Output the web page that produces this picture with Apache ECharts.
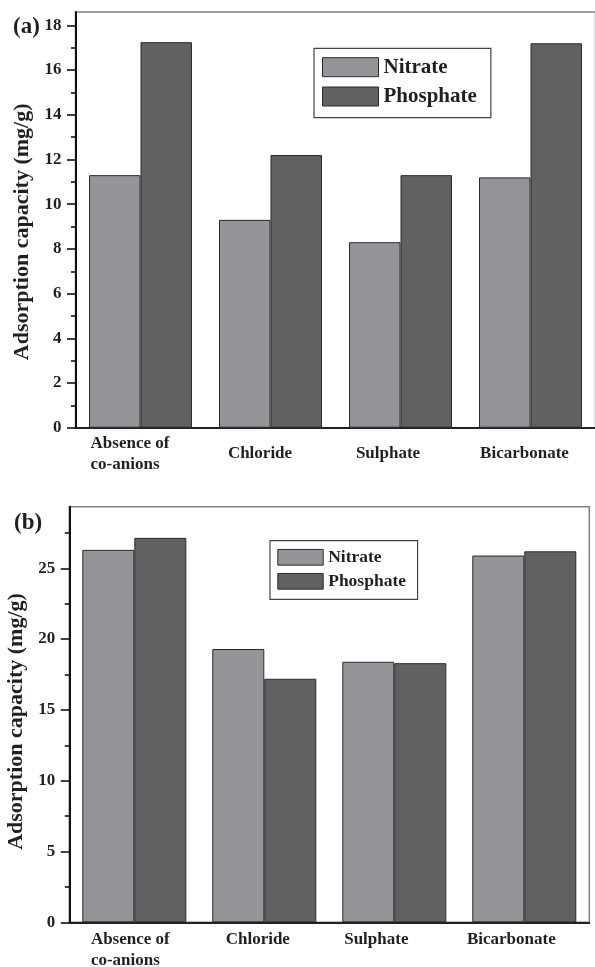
<!DOCTYPE html>
<html>
<head>
<meta charset="utf-8">
<script src="https://cdn.jsdelivr.net/npm/echarts@6/dist/echarts.min.js"></script>
<style>
  html, body { margin: 0; padding: 0; background: #fff; }
  #chart { width: 595px; height: 967px; }
</style>
</head>
<body>
<div id="chart"></div>
<script>
// Co-anion categories shared by both panels
const categories = ['Absence of\nco-anions', 'Chloride', 'Sulphate', 'Bicarbonate'];

// Panel (a): adsorption capacity (mg/g)
const nitrateA = [11.3, 9.3, 8.3, 11.2];
const phosphateA = [17.25, 12.2, 11.3, 17.2];

// Panel (b): adsorption capacity (mg/g)
const nitrateB = [26.3, 19.3, 18.4, 25.9];
const phosphateB = [27.15, 17.2, 18.3, 26.2];

// Y-axis tick values
const majorTicksA = [0, 2, 4, 6, 8, 10, 12, 14, 16, 18];
const minorTicksA = [1, 3, 5, 7, 9, 11, 13, 15, 17];
const majorTicksB = [0, 5, 10, 15, 20, 25];
const minorTicksB = [2.5, 7.5, 12.5, 17.5, 22.5, 27.5];

const FONT = "'Liberation Serif', 'Times New Roman', serif";
const TEXT = '#231f20';
const LIGHT = '#949598';
const DARK = '#616163';
const EDGE = '#2a2a2a';

// right padding per category label (nudges each label to the left)
function catLabel(shifts, lineHeight) {
  const rich = {};
  shifts.forEach((s, i) => {
    rich['s' + i] = {
      fontFamily: FONT, fontWeight: 'bold', fontSize: 17, color: TEXT,
      lineHeight: lineHeight, align: 'left', padding: [0, s, 0, 0]
    };
  });
  return {
    rich,
    formatter: (v, i) => v.split('\n').map(l => '{s' + i + '|' + l + '}').join('\n')
  };
}

function panel(gridIdx, yMax, majors, minors, nameSize, namePad, nameGap, labelCfg) {
  const lab = catLabel(labelCfg.shifts, labelCfg.lineHeight);
  const xAxis = {
    type: 'category', gridIndex: gridIdx, data: categories,
    axisLine: { lineStyle: { color: '#222', width: 2 } },
    axisTick: { show: false },
    axisLabel: {
      interval: 0, margin: labelCfg.margin, verticalAlign: labelCfg.valign,
      formatter: lab.formatter, rich: lab.rich
    },
    splitLine: { show: false }
  };
  const yMajor = {
    type: 'value', gridIndex: gridIdx, min: 0, max: yMax,
    name: 'Adsorption capacity (mg/g)', nameLocation: 'middle', nameGap: nameGap,
    nameTextStyle: {
      fontFamily: FONT, fontWeight: 'bold', fontSize: nameSize, color: TEXT,
      padding: [0, namePad, 0, 0]
    },
    axisLine: { show: true, lineStyle: { color: '#111', width: 2 } },
    axisTick: { show: true, inside: false, length: 8.5, customValues: majors,
      lineStyle: { color: '#111', width: 1.6 } },
    axisLabel: { customValues: majors, margin: 14, fontFamily: FONT, fontWeight: 'bold',
      fontSize: 17, color: TEXT },
    splitLine: { show: false }
  };
  const yMinor = {
    type: 'value', gridIndex: gridIdx, min: 0, max: yMax, position: 'left',
    axisLine: { show: false },
    axisTick: { show: true, inside: false, length: 4.5, customValues: minors,
      lineStyle: { color: '#111', width: 1.6 } },
    axisLabel: { show: false },
    splitLine: { show: false }
  };
  return { xAxis, yAxes: [yMajor, yMinor] };
}

const pA = panel(0, 18.6, majorTicksA, minorTicksA, 22, 24, 42,
  { shifts: [21, 21, 25, 12], margin: 26, valign: 'middle', lineHeight: 21 });
const pB = panel(1, 29.35, majorTicksB, minorTicksB, 22, 14, 33,
  { shifts: [8, 13, 36, 26], margin: 7, valign: 'top', lineHeight: 21 });

function barSeries(name, data, color, xi, yi, gap) {
  return {
    type: 'bar', name, data, xAxisIndex: xi, yAxisIndex: yi,
    barGap: '0%', barCategoryGap: gap,
    itemStyle: { color, borderColor: EDGE, borderWidth: 1 },
    emphasis: { disabled: true }
  };
}

function legendCfg(left, top, w, h, gap, size, pad) {
  return {
    orient: 'vertical', left, top, itemWidth: w, itemHeight: h, itemGap: gap,
    padding: pad, icon: 'rect', selectedMode: false,
    data: ['Nitrate', 'Phosphate'],
    borderColor: '#444', borderWidth: 1.2, backgroundColor: '#fff',
    itemStyle: { borderColor: EDGE, borderWidth: 1 },
    textStyle: { fontFamily: FONT, fontWeight: 'bold', fontSize: size, color: TEXT, lineHeight: h }
  };
}

const chart = echarts.init(document.getElementById('chart'), null, { renderer: 'canvas' });
chart.setOption({
  animation: false,
  backgroundColor: '#fff',
  title: [
    { text: '(a)', left: 8, top: 11, textStyle: { fontFamily: FONT, fontWeight: 'bold', fontSize: 23, color: TEXT } },
    { text: '(b)', left: 9, top: 507, textStyle: { fontFamily: FONT, fontWeight: 'bold', fontSize: 23, color: TEXT } }
  ],
  grid: [
    { left: 75.5, top: 12, width: 520, height: 415.7, outerBoundsMode: 'none', containLabel: false,
      show: true, borderColor: '#808080', borderWidth: 1.5, backgroundColor: 'transparent' },
    { left: 69.3, top: 506.7, width: 520, height: 415.6, outerBoundsMode: 'none', containLabel: false,
      show: true, borderColor: '#808080', borderWidth: 1.5, backgroundColor: 'transparent' }
  ],
  legend: [
    legendCfg(314, 48.3, 56, 19, 8.3, 21, [8.4, 14, 10.6, 8]),
    legendCfg(270, 540.7, 45.4, 15.7, 6, 17.5, [7.6, 11.6, 9, 7.3])
  ],
  xAxis: [pA.xAxis, pB.xAxis],
  yAxis: [pA.yAxes[0], pA.yAxes[1], pB.yAxes[0], pB.yAxes[1]],
  series: [
    barSeries('Nitrate', nitrateA, LIGHT, 0, 0, '20.8%'),
    barSeries('Phosphate', phosphateA, DARK, 0, 0, '20.8%'),
    barSeries('Nitrate', nitrateB, LIGHT, 1, 2, '20%'),
    barSeries('Phosphate', phosphateB, DARK, 1, 2, '20%')
  ]
});
</script>
</body>
</html>
